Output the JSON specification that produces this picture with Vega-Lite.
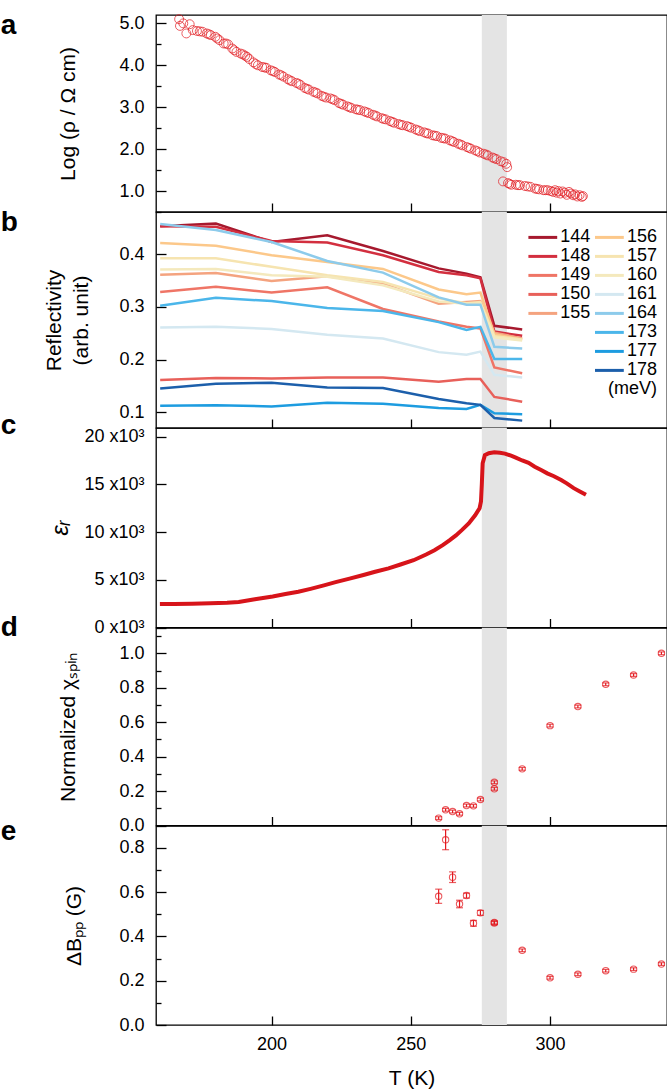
{
  "$schema": "https://vega.github.io/schema/vega-lite/v6.json",
  "padding": {"left": 0, "top": 11, "right": 0, "bottom": 0},
  "spacing": 0,
  "bounds": "flush",
  "config": {
    "font": "Liberation Sans",
    "view": {"stroke": "black", "strokeWidth": 1.3},
    "axis": {"domain": false, "grid": false, "tickColor": "black", "tickWidth": 1.3, "labelColor": "black", "labelFontSize": 18, "titleFontSize": 21, "titleFontWeight": "normal", "titleColor": "black", "labelOverlap": false, "labelSeparation": -30},
    "legend": {"labelFontSize": 18, "labelColor": "black", "padding": 0}
  },
  "datasets": {
    "band": [{"T": 275.5, "T2": 284.5}],
    "res": [
      {"T":166.8,"v":5.10},{"T":167.1,"v":4.94},{"T":168.3,"v":5.0},{"T":169.4,"v":4.76},{"T":170.6,"v":4.98},{"T":171.7,"v":4.84},{"T":173.2,"v":4.82},{"T":174.2,"v":4.81},{"T":175.2,"v":4.80},{"T":176.7,"v":4.76},{"T":177.5,"v":4.74},{"T":178.2,"v":4.72},{"T":179.8,"v":4.68},{"T":180.5,"v":4.64},{"T":181.3,"v":4.60},{"T":182.8,"v":4.52},{"T":183.6,"v":4.52},{"T":184.4,"v":4.50},{"T":185.9,"v":4.40},{"T":186.6,"v":4.36},{"T":187.4,"v":4.32},{"T":188.9,"v":4.28},{"T":189.7,"v":4.26},{"T":190.5,"v":4.23},{"T":191.2,"v":4.20},{"T":192.0,"v":4.15},{"T":193.5,"v":4.07},{"T":194.3,"v":4.03},{"T":195.1,"v":4.00},{"T":196.6,"v":3.96},{"T":197.4,"v":3.95},{"T":198.1,"v":3.94},{"T":199.7,"v":3.88},{"T":200.5,"v":3.86},{"T":201.2,"v":3.84},{"T":202.7,"v":3.78},{"T":203.5,"v":3.76},{"T":204.3,"v":3.73},{"T":205.8,"v":3.67},{"T":206.6,"v":3.64},{"T":207.3,"v":3.62},{"T":208.9,"v":3.58},{"T":209.7,"v":3.56},{"T":210.4,"v":3.53},{"T":211.9,"v":3.46},{"T":212.7,"v":3.44},{"T":213.4,"v":3.42},{"T":215.0,"v":3.37},{"T":215.8,"v":3.35},{"T":216.5,"v":3.33},{"T":218.0,"v":3.27},{"T":218.8,"v":3.25},{"T":219.6,"v":3.23},{"T":221.1,"v":3.21},{"T":221.9,"v":3.19},{"T":222.6,"v":3.17},{"T":224.2,"v":3.10},{"T":225.0,"v":3.08},{"T":225.7,"v":3.06},{"T":227.2,"v":3.02},{"T":228.0,"v":3.00},{"T":228.7,"v":2.98},{"T":230.3,"v":2.95},{"T":231.0,"v":2.94},{"T":231.8,"v":2.93},{"T":233.3,"v":2.90},{"T":234.1,"v":2.88},{"T":234.9,"v":2.86},{"T":236.4,"v":2.82},{"T":237.2,"v":2.80},{"T":237.9,"v":2.78},{"T":239.5,"v":2.74},{"T":240.2,"v":2.72},{"T":241.0,"v":2.71},{"T":242.5,"v":2.67},{"T":243.3,"v":2.65},{"T":244.0,"v":2.63},{"T":245.6,"v":2.60},{"T":246.4,"v":2.58},{"T":247.1,"v":2.57},{"T":248.6,"v":2.55},{"T":249.4,"v":2.53},{"T":250.2,"v":2.51},{"T":251.7,"v":2.47},{"T":252.5,"v":2.45},{"T":253.2,"v":2.43},{"T":254.8,"v":2.40},{"T":255.6,"v":2.38},{"T":256.3,"v":2.37},{"T":257.8,"v":2.33},{"T":258.6,"v":2.32},{"T":259.4,"v":2.31},{"T":260.9,"v":2.27},{"T":261.7,"v":2.26},{"T":262.4,"v":2.25},{"T":264.0,"v":2.21},{"T":264.8,"v":2.19},{"T":265.5,"v":2.17},{"T":267.0,"v":2.13},{"T":267.8,"v":2.11},{"T":268.5,"v":2.09},{"T":270.1,"v":2.05},{"T":270.9,"v":2.03},{"T":271.6,"v":2.01},{"T":273.1,"v":1.97},{"T":273.9,"v":1.95},{"T":274.7,"v":1.92},{"T":276.2,"v":1.89},{"T":277.0,"v":1.87},{"T":277.7,"v":1.85},{"T":279.3,"v":1.80},{"T":280.0,"v":1.78},{"T":280.8,"v":1.76},{"T":282.3,"v":1.71},{"T":283.3,"v":1.69},{"T":284.3,"v":1.65},{"T":284.6,"v":1.57},{"T":283.1,"v":1.23},{"T":284.9,"v":1.19},{"T":285.5,"v":1.17},{"T":286.1,"v":1.15},{"T":287.7,"v":1.15},{"T":288.5,"v":1.14},{"T":289.2,"v":1.14},{"T":291.0,"v":1.12},{"T":292.0,"v":1.11},{"T":293.0,"v":1.10},{"T":294.6,"v":1.06},{"T":295.3,"v":1.05},{"T":296.1,"v":1.04},{"T":297.6,"v":1.02},{"T":298.4,"v":1.02},{"T":299.2,"v":1.02},{"T":300.2,"v":1.00},{"T":301.1,"v":0.98},{"T":301.8,"v":1.02},{"T":302.4,"v":0.96},{"T":303.0,"v":1.00},{"T":303.7,"v":0.94},{"T":304.5,"v":0.99},{"T":305.3,"v":0.96},{"T":306.0,"v":0.91},{"T":306.8,"v":0.98},{"T":307.5,"v":0.94},{"T":308.3,"v":0.90},{"T":309.0,"v":0.92},{"T":309.8,"v":0.87},{"T":310.6,"v":0.90},{"T":311.4,"v":0.86},{"T":311.8,"v":0.88}
    ],
    "refl": [
      {"E":"144","T":160,"v":0.453},{"E":"144","T":180,"v":0.458},{"E":"144","T":200,"v":0.423},{"E":"144","T":220,"v":0.436},{"E":"144","T":240,"v":0.406},{"E":"144","T":260,"v":0.373},{"E":"144","T":270,"v":0.363},{"E":"144","T":275,"v":0.356},{"E":"144","T":280,"v":0.264},{"E":"144","T":290,"v":0.257},
      {"E":"148","T":160,"v":0.453},{"E":"148","T":180,"v":0.452},{"E":"148","T":200,"v":0.425},{"E":"148","T":220,"v":0.422},{"E":"148","T":240,"v":0.398},{"E":"148","T":260,"v":0.366},{"E":"148","T":270,"v":0.360},{"E":"148","T":275,"v":0.354},{"E":"148","T":280,"v":0.253},{"E":"148","T":290,"v":0.245},
      {"E":"149","T":160,"v":0.328},{"E":"149","T":180,"v":0.338},{"E":"149","T":200,"v":0.327},{"E":"149","T":220,"v":0.337},{"E":"149","T":240,"v":0.296},{"E":"149","T":260,"v":0.272},{"E":"149","T":270,"v":0.262},{"E":"149","T":275,"v":0.259},{"E":"149","T":280,"v":0.185},{"E":"149","T":290,"v":0.174},
      {"E":"150","T":160,"v":0.161},{"E":"150","T":180,"v":0.165},{"E":"150","T":200,"v":0.164},{"E":"150","T":220,"v":0.166},{"E":"150","T":240,"v":0.166},{"E":"150","T":260,"v":0.158},{"E":"150","T":270,"v":0.163},{"E":"150","T":275,"v":0.163},{"E":"150","T":280,"v":0.129},{"E":"150","T":290,"v":0.120},
      {"E":"155","T":160,"v":0.361},{"E":"155","T":180,"v":0.364},{"E":"155","T":200,"v":0.349},{"E":"155","T":220,"v":0.358},{"E":"155","T":240,"v":0.344},{"E":"155","T":260,"v":0.306},{"E":"155","T":270,"v":0.309},{"E":"155","T":275,"v":0.311},{"E":"155","T":280,"v":0.251},{"E":"155","T":290,"v":0.240},
      {"E":"156","T":160,"v":0.421},{"E":"156","T":180,"v":0.416},{"E":"156","T":200,"v":0.398},{"E":"156","T":220,"v":0.385},{"E":"156","T":240,"v":0.372},{"E":"156","T":260,"v":0.333},{"E":"156","T":270,"v":0.324},{"E":"156","T":275,"v":0.327},{"E":"156","T":280,"v":0.248},{"E":"156","T":290,"v":0.238},
      {"E":"157","T":160,"v":0.392},{"E":"157","T":180,"v":0.392},{"E":"157","T":200,"v":0.376},{"E":"157","T":220,"v":0.360},{"E":"157","T":240,"v":0.347},{"E":"157","T":260,"v":0.316},{"E":"157","T":270,"v":0.307},{"E":"157","T":275,"v":0.309},{"E":"157","T":280,"v":0.244},{"E":"157","T":290,"v":0.238},
      {"E":"160","T":160,"v":0.371},{"E":"160","T":180,"v":0.372},{"E":"160","T":200,"v":0.360},{"E":"160","T":220,"v":0.357},{"E":"160","T":240,"v":0.341},{"E":"160","T":260,"v":0.310},{"E":"160","T":270,"v":0.306},{"E":"160","T":275,"v":0.306},{"E":"160","T":280,"v":0.242},{"E":"160","T":290,"v":0.236},
      {"E":"161","T":160,"v":0.261},{"E":"161","T":180,"v":0.262},{"E":"161","T":200,"v":0.258},{"E":"161","T":220,"v":0.247},{"E":"161","T":240,"v":0.240},{"E":"161","T":260,"v":0.214},{"E":"161","T":270,"v":0.209},{"E":"161","T":275,"v":0.215},{"E":"161","T":280,"v":0.171},{"E":"161","T":290,"v":0.166},
      {"E":"164","T":160,"v":0.457},{"E":"164","T":180,"v":0.446},{"E":"164","T":200,"v":0.423},{"E":"164","T":220,"v":0.387},{"E":"164","T":240,"v":0.365},{"E":"164","T":260,"v":0.318},{"E":"164","T":270,"v":0.304},{"E":"164","T":275,"v":0.304},{"E":"164","T":280,"v":0.224},{"E":"164","T":290,"v":0.221},
      {"E":"173","T":160,"v":0.302},{"E":"173","T":180,"v":0.317},{"E":"173","T":200,"v":0.311},{"E":"173","T":220,"v":0.298},{"E":"173","T":240,"v":0.292},{"E":"173","T":260,"v":0.271},{"E":"173","T":270,"v":0.256},{"E":"173","T":275,"v":0.262},{"E":"173","T":280,"v":0.201},{"E":"173","T":290,"v":0.201},
      {"E":"177","T":160,"v":0.112},{"E":"177","T":180,"v":0.113},{"E":"177","T":200,"v":0.111},{"E":"177","T":220,"v":0.118},{"E":"177","T":240,"v":0.116},{"E":"177","T":260,"v":0.108},{"E":"177","T":270,"v":0.106},{"E":"177","T":275,"v":0.114},{"E":"177","T":280,"v":0.098},{"E":"177","T":290,"v":0.096},
      {"E":"178","T":160,"v":0.145},{"E":"178","T":180,"v":0.154},{"E":"178","T":200,"v":0.156},{"E":"178","T":220,"v":0.147},{"E":"178","T":240,"v":0.146},{"E":"178","T":260,"v":0.125},{"E":"178","T":270,"v":0.117},{"E":"178","T":275,"v":0.114},{"E":"178","T":280,"v":0.089},{"E":"178","T":290,"v":0.084}
    ],
    "eps": [
      {"T":159.9,"v":2450},{"T":165,"v":2470},{"T":171.4,"v":2500},{"T":178,"v":2550},{"T":184,"v":2600},{"T":188.2,"v":2680},{"T":194,"v":2950},{"T":200.4,"v":3250},{"T":205,"v":3500},{"T":209.6,"v":3740},{"T":214,"v":4050},{"T":218.8,"v":4420},{"T":223,"v":4750},{"T":228,"v":5120},{"T":233,"v":5500},{"T":237.2,"v":5840},{"T":242,"v":6200},{"T":246.3,"v":6600},{"T":251,"v":7050},{"T":255.5,"v":7650},{"T":258.5,"v":8100},{"T":261.6,"v":8650},{"T":264,"v":9150},{"T":266.2,"v":9650},{"T":268.5,"v":10250},{"T":270.8,"v":10900},{"T":273.1,"v":11750},{"T":274.7,"v":12500},{"T":275.2,"v":13200},{"T":275.5,"v":15000},{"T":275.8,"v":17200},{"T":276.6,"v":18050},{"T":278,"v":18250},{"T":280,"v":18350},{"T":282,"v":18300},{"T":283.8,"v":18220},{"T":286,"v":18000},{"T":287.7,"v":17800},{"T":290,"v":17500},{"T":292.3,"v":17250},{"T":294.5,"v":16850},{"T":296.8,"v":16500},{"T":299,"v":16150},{"T":301.4,"v":15850},{"T":304,"v":15450},{"T":306,"v":15100},{"T":308.5,"v":14600},{"T":310.7,"v":14250},{"T":312.9,"v":13900}
    ],
    "chi": [
      {"T":260,"v":0.043,"lo":0.035,"hi":0.051},{"T":262.5,"v":0.091,"lo":0.083,"hi":0.099},{"T":265,"v":0.081,"lo":0.073,"hi":0.089},{"T":267.5,"v":0.068,"lo":0.060,"hi":0.076},{"T":270,"v":0.116,"lo":0.108,"hi":0.124},{"T":272.5,"v":0.114,"lo":0.106,"hi":0.122},{"T":275,"v":0.151,"lo":0.143,"hi":0.159},{"T":280,"v":0.251,"lo":0.243,"hi":0.259},{"T":280,"v":0.213,"lo":0.205,"hi":0.221},{"T":290,"v":0.329,"lo":0.321,"hi":0.337},{"T":300,"v":0.580,"lo":0.572,"hi":0.588},{"T":310,"v":0.691,"lo":0.683,"hi":0.699},{"T":320,"v":0.820,"lo":0.812,"hi":0.828},{"T":330,"v":0.874,"lo":0.866,"hi":0.882},{"T":340,"v":1.000,"lo":0.992,"hi":1.008}
    ],
    "dbpp": [
      {"T":260,"v":0.581,"lo":0.549,"hi":0.613},{"T":262.5,"v":0.836,"lo":0.791,"hi":0.881},{"T":265,"v":0.667,"lo":0.643,"hi":0.691},{"T":267.5,"v":0.546,"lo":0.529,"hi":0.563},{"T":270,"v":0.584,"lo":0.573,"hi":0.595},{"T":272.5,"v":0.459,"lo":0.446,"hi":0.472},{"T":275,"v":0.506,"lo":0.495,"hi":0.517},{"T":280,"v":0.460,"lo":0.453,"hi":0.467},{"T":280,"v":0.463,"lo":0.456,"hi":0.470},{"T":290,"v":0.337,"lo":0.331,"hi":0.343},{"T":300,"v":0.213,"lo":0.207,"hi":0.219},{"T":310,"v":0.229,"lo":0.223,"hi":0.235},{"T":320,"v":0.245,"lo":0.239,"hi":0.251},{"T":330,"v":0.252,"lo":0.246,"hi":0.258},{"T":340,"v":0.275,"lo":0.269,"hi":0.281}
    ]
  },
  "vconcat": [
    {
      "width": 511, "height": 197,
      "title": {"text": "a", "anchor": "start", "frame": "group", "orient": "top", "offset": 0, "baseline": "alphabetic", "dx": -155.3, "dy": 49.4, "fontSize": 28, "fontWeight": "bold", "color": "black"},
      "encoding": {"x": {"field": "T", "type": "quantitative", "scale": {"domain": [158.5, 342], "nice": false, "zero": false}, "axis": {"values": [200, 250, 300], "tickCount": 50, "labels": false, "title": null, "tickSize": -9}}},
      "layer": [
        {"data": {"name": "band"}, "mark": {"type": "rect", "color": "#e4e4e4"}, "encoding": {"x2": {"field": "T2"}}},
        {"data": {"name": "res"}, "mark": {"type": "point", "shape": "circle", "filled": false, "size": 80, "strokeWidth": 1, "color": "#e3171d"},
         "encoding": {"y": {"field": "v", "type": "quantitative", "scale": {"domain": [0.5, 5.2], "nice": false, "zero": false},
           "axis": {"values": [0.5, 1, 1.5, 2, 2.5, 3, 3.5, 4, 4.5, 5], "tickCount": 50, "labelOverlap": false, "labelExpr": "datum.value % 1 === 0 ? format(datum.value, '.1f') : ''", "labelFontSize": {"condition": {"test": "datum.value % 1 !== 0", "value": 0.1}, "value": 18}, "tickSize": {"condition": {"test": "datum.value % 1 !== 0", "value": -5}, "value": -10}, "labelPadding": 22, "title": "Log (ρ / Ω cm)", "titlePadding": 40}}}}
      ]
    },
    {
      "width": 511, "height": 216,
      "title": {"text": "b", "anchor": "start", "frame": "group", "orient": "top", "offset": 0, "baseline": "alphabetic", "dx": -155.3, "dy": 47, "fontSize": 28, "fontWeight": "bold", "color": "black"},
      "encoding": {"x": {"field": "T", "type": "quantitative", "scale": {"domain": [158.5, 342], "nice": false, "zero": false}, "axis": {"values": [200, 250, 300], "tickCount": 50, "labels": false, "title": null, "tickSize": -9}}},
      "layer": [
        {"data": {"name": "band"}, "mark": {"type": "rect", "color": "#e4e4e4"}, "encoding": {"x2": {"field": "T2"}}},
        {"data": {"name": "refl"}, "transform": [{"filter": {"field": "E", "oneOf": ["144", "148", "149", "150", "155"]}}],
         "mark": {"type": "line", "strokeWidth": 2.5},
         "encoding": {
           "y": {"field": "v", "type": "quantitative", "scale": {"domain": [0.07, 0.48], "nice": false, "zero": false},
             "axis": {"values": [0.1, 0.2, 0.3, 0.4], "tickCount": 50, "format": ".1f", "tickSize": -10, "labelPadding": 22, "title": ["Reflectivity", "(arb. unit)"], "titlePadding": 27, "titleLineHeight": 27}},
           "color": {"field": "E", "type": "nominal", "scale": {"domain": ["144", "148", "149", "150", "155"], "range": ["#a6192e", "#d32f3f", "#ef7566", "#e8605a", "#f4a37f"]},
             "legend": {"orient": "none", "legendX": 377.3, "legendY": 212.9, "title": null, "symbolType": "M-1.8,0H1.8", "symbolSize": 256, "symbolStrokeWidth": 3, "labelOffset": 8, "rowPadding": -0.3}}
         }},
        {"data": {"name": "refl"}, "transform": [{"filter": {"field": "E", "oneOf": ["156", "157", "160", "161", "164", "173", "177", "178"]}}],
         "mark": {"type": "line", "strokeWidth": 2.5},
         "encoding": {
           "y": {"field": "v", "type": "quantitative", "scale": {"domain": [0.07, 0.48], "nice": false, "zero": false}},
           "stroke": {"field": "E", "type": "nominal", "scale": {"domain": ["156", "157", "160", "161", "164", "173", "177", "178"], "range": ["#fcc88a", "#f6e4b0", "#f4e9bd", "#d4e8f1", "#8dcbeb", "#4bb6ea", "#1d9ce0", "#1c5fab"]},
             "legend": {"orient": "none", "legendX": 443.9, "legendY": 212.9, "title": "(meV)", "titleOrient": "bottom", "titleAnchor": "end", "titleFontSize": 18, "titleFontWeight": "normal", "titleColor": "black", "titlePadding": 0, "symbolType": "M-1.8,0H1.8", "symbolSize": 256, "symbolStrokeWidth": 3, "labelOffset": 8, "rowPadding": -0.3}}
         }}
      ]
    },
    {
      "width": 511, "height": 199.5,
      "title": {"text": "c", "anchor": "start", "frame": "group", "orient": "top", "offset": 0, "baseline": "alphabetic", "dx": -155.3, "dy": 34, "fontSize": 28, "fontWeight": "bold", "color": "black"},
      "encoding": {"x": {"field": "T", "type": "quantitative", "scale": {"domain": [158.5, 342], "nice": false, "zero": false}, "axis": {"values": [200, 250, 300], "tickCount": 50, "labels": false, "title": null, "tickSize": -9}}},
      "layer": [
        {"data": {"name": "band"}, "mark": {"type": "rect", "color": "#e4e4e4"}, "encoding": {"x2": {"field": "T2"}}},
        {"data": {"name": "eps"}, "mark": {"type": "line", "strokeWidth": 4, "color": "#d7141a"},
         "encoding": {"y": {"field": "v", "type": "quantitative", "scale": {"domain": [0, 20900], "nice": false, "zero": false},
           "axis": {"values": [0, 5000, 10000, 15000, 20000], "tickCount": 50, "labelExpr": "format(datum.value / 1000, 'd') + ' x10³'", "tickSize": -10, "labelPadding": 22, "title": "εᵣ", "titleFontStyle": "italic", "titleFontSize": 24, "titlePadding": 11}}}}
      ]
    },
    {
      "width": 511, "height": 197.5,
      "title": {"text": "d", "anchor": "start", "frame": "group", "orient": "top", "offset": 0, "baseline": "alphabetic", "dx": -155.3, "dy": 35.7, "fontSize": 28, "fontWeight": "bold", "color": "black"},
      "encoding": {"x": {"field": "T", "type": "quantitative", "scale": {"domain": [158.5, 342], "nice": false, "zero": false}, "axis": {"values": [200, 250, 300], "tickCount": 50, "labels": false, "title": null, "tickSize": -9}}},
      "layer": [
        {"data": {"name": "band"}, "mark": {"type": "rect", "color": "#e4e4e4"}, "encoding": {"x2": {"field": "T2"}}},
        {"data": {"name": "chi"}, "mark": {"type": "point", "shape": "circle", "filled": false, "size": 40, "strokeWidth": 1.1, "color": "#e3171d"},
         "encoding": {"y": {"field": "v", "type": "quantitative", "scale": {"domain": [0, 1.147], "nice": false, "zero": false},
           "axis": {"values": [0, 0.1, 0.2, 0.3, 0.4, 0.5, 0.6, 0.7, 0.8, 0.9, 1.0, 1.1], "tickCount": 50, "labelOverlap": false, "labelExpr": "round(datum.value * 10) % 2 === 0 ? format(datum.value, '.1f') : ''", "labelFontSize": {"condition": {"test": "round(datum.value * 10) % 2 !== 0", "value": 0.1}, "value": 18}, "tickSize": {"condition": {"test": "round(datum.value * 10) % 2 !== 0", "value": -5}, "value": -10}, "labelPadding": 22, "title": "Normalized χₛₚᵢₙ", "titlePadding": 40}}}},
        {"data": {"name": "chi"}, "mark": {"type": "rule", "color": "#e3171d", "strokeWidth": 1.2},
         "encoding": {"y": {"field": "lo", "type": "quantitative", "scale": {"domain": [0, 1.147], "nice": false, "zero": false}}, "y2": {"field": "hi"}}},
        {"data": {"name": "chi"}, "mark": {"type": "tick", "orient": "horizontal", "size": 7, "thickness": 1.2, "color": "#e3171d"},
         "encoding": {"y": {"field": "lo", "type": "quantitative", "scale": {"domain": [0, 1.147], "nice": false, "zero": false}}}},
        {"data": {"name": "chi"}, "mark": {"type": "tick", "orient": "horizontal", "size": 7, "thickness": 1.2, "color": "#e3171d"},
         "encoding": {"y": {"field": "hi", "type": "quantitative", "scale": {"domain": [0, 1.147], "nice": false, "zero": false}}}}
      ]
    },
    {
      "width": 511, "height": 199,
      "title": {"text": "e", "anchor": "start", "frame": "group", "orient": "top", "offset": 0, "baseline": "alphabetic", "dx": -155.3, "dy": 42.3, "fontSize": 28, "fontWeight": "bold", "color": "black"},
      "encoding": {"x": {"field": "T", "type": "quantitative", "scale": {"domain": [158.5, 342], "nice": false, "zero": false}, "axis": {"values": [200, 250, 300], "tickCount": 50, "tickSize": -9, "labelPadding": 19, "title": "T (K)", "titlePadding": 14}}},
      "layer": [
        {"data": {"name": "band"}, "mark": {"type": "rect", "color": "#e4e4e4"}, "encoding": {"x2": {"field": "T2"}}},
        {"data": {"name": "dbpp"}, "mark": {"type": "point", "shape": "circle", "filled": false, "size": 40, "strokeWidth": 1.1, "color": "#e3171d"},
         "encoding": {"y": {"field": "v", "type": "quantitative", "scale": {"domain": [0, 0.898], "nice": false, "zero": false},
           "axis": {"values": [0, 0.1, 0.2, 0.3, 0.4, 0.5, 0.6, 0.7, 0.8], "tickCount": 50, "labelOverlap": false, "labelExpr": "round(datum.value * 10) % 2 === 0 ? format(datum.value, '.1f') : ''", "labelFontSize": {"condition": {"test": "round(datum.value * 10) % 2 !== 0", "value": 0.1}, "value": 18}, "tickSize": {"condition": {"test": "round(datum.value * 10) % 2 !== 0", "value": -5}, "value": -10}, "labelPadding": 22, "title": "ΔBₚₚ (G)", "titlePadding": 34}}}},
        {"data": {"name": "dbpp"}, "mark": {"type": "rule", "color": "#e3171d", "strokeWidth": 1.2},
         "encoding": {"y": {"field": "lo", "type": "quantitative", "scale": {"domain": [0, 0.898], "nice": false, "zero": false}}, "y2": {"field": "hi"}}},
        {"data": {"name": "dbpp"}, "mark": {"type": "tick", "orient": "horizontal", "size": 7, "thickness": 1.2, "color": "#e3171d"},
         "encoding": {"y": {"field": "lo", "type": "quantitative", "scale": {"domain": [0, 0.898], "nice": false, "zero": false}}}},
        {"data": {"name": "dbpp"}, "mark": {"type": "tick", "orient": "horizontal", "size": 7, "thickness": 1.2, "color": "#e3171d"},
         "encoding": {"y": {"field": "hi", "type": "quantitative", "scale": {"domain": [0, 0.898], "nice": false, "zero": false}}}}
      ]
    }
  ]
}
